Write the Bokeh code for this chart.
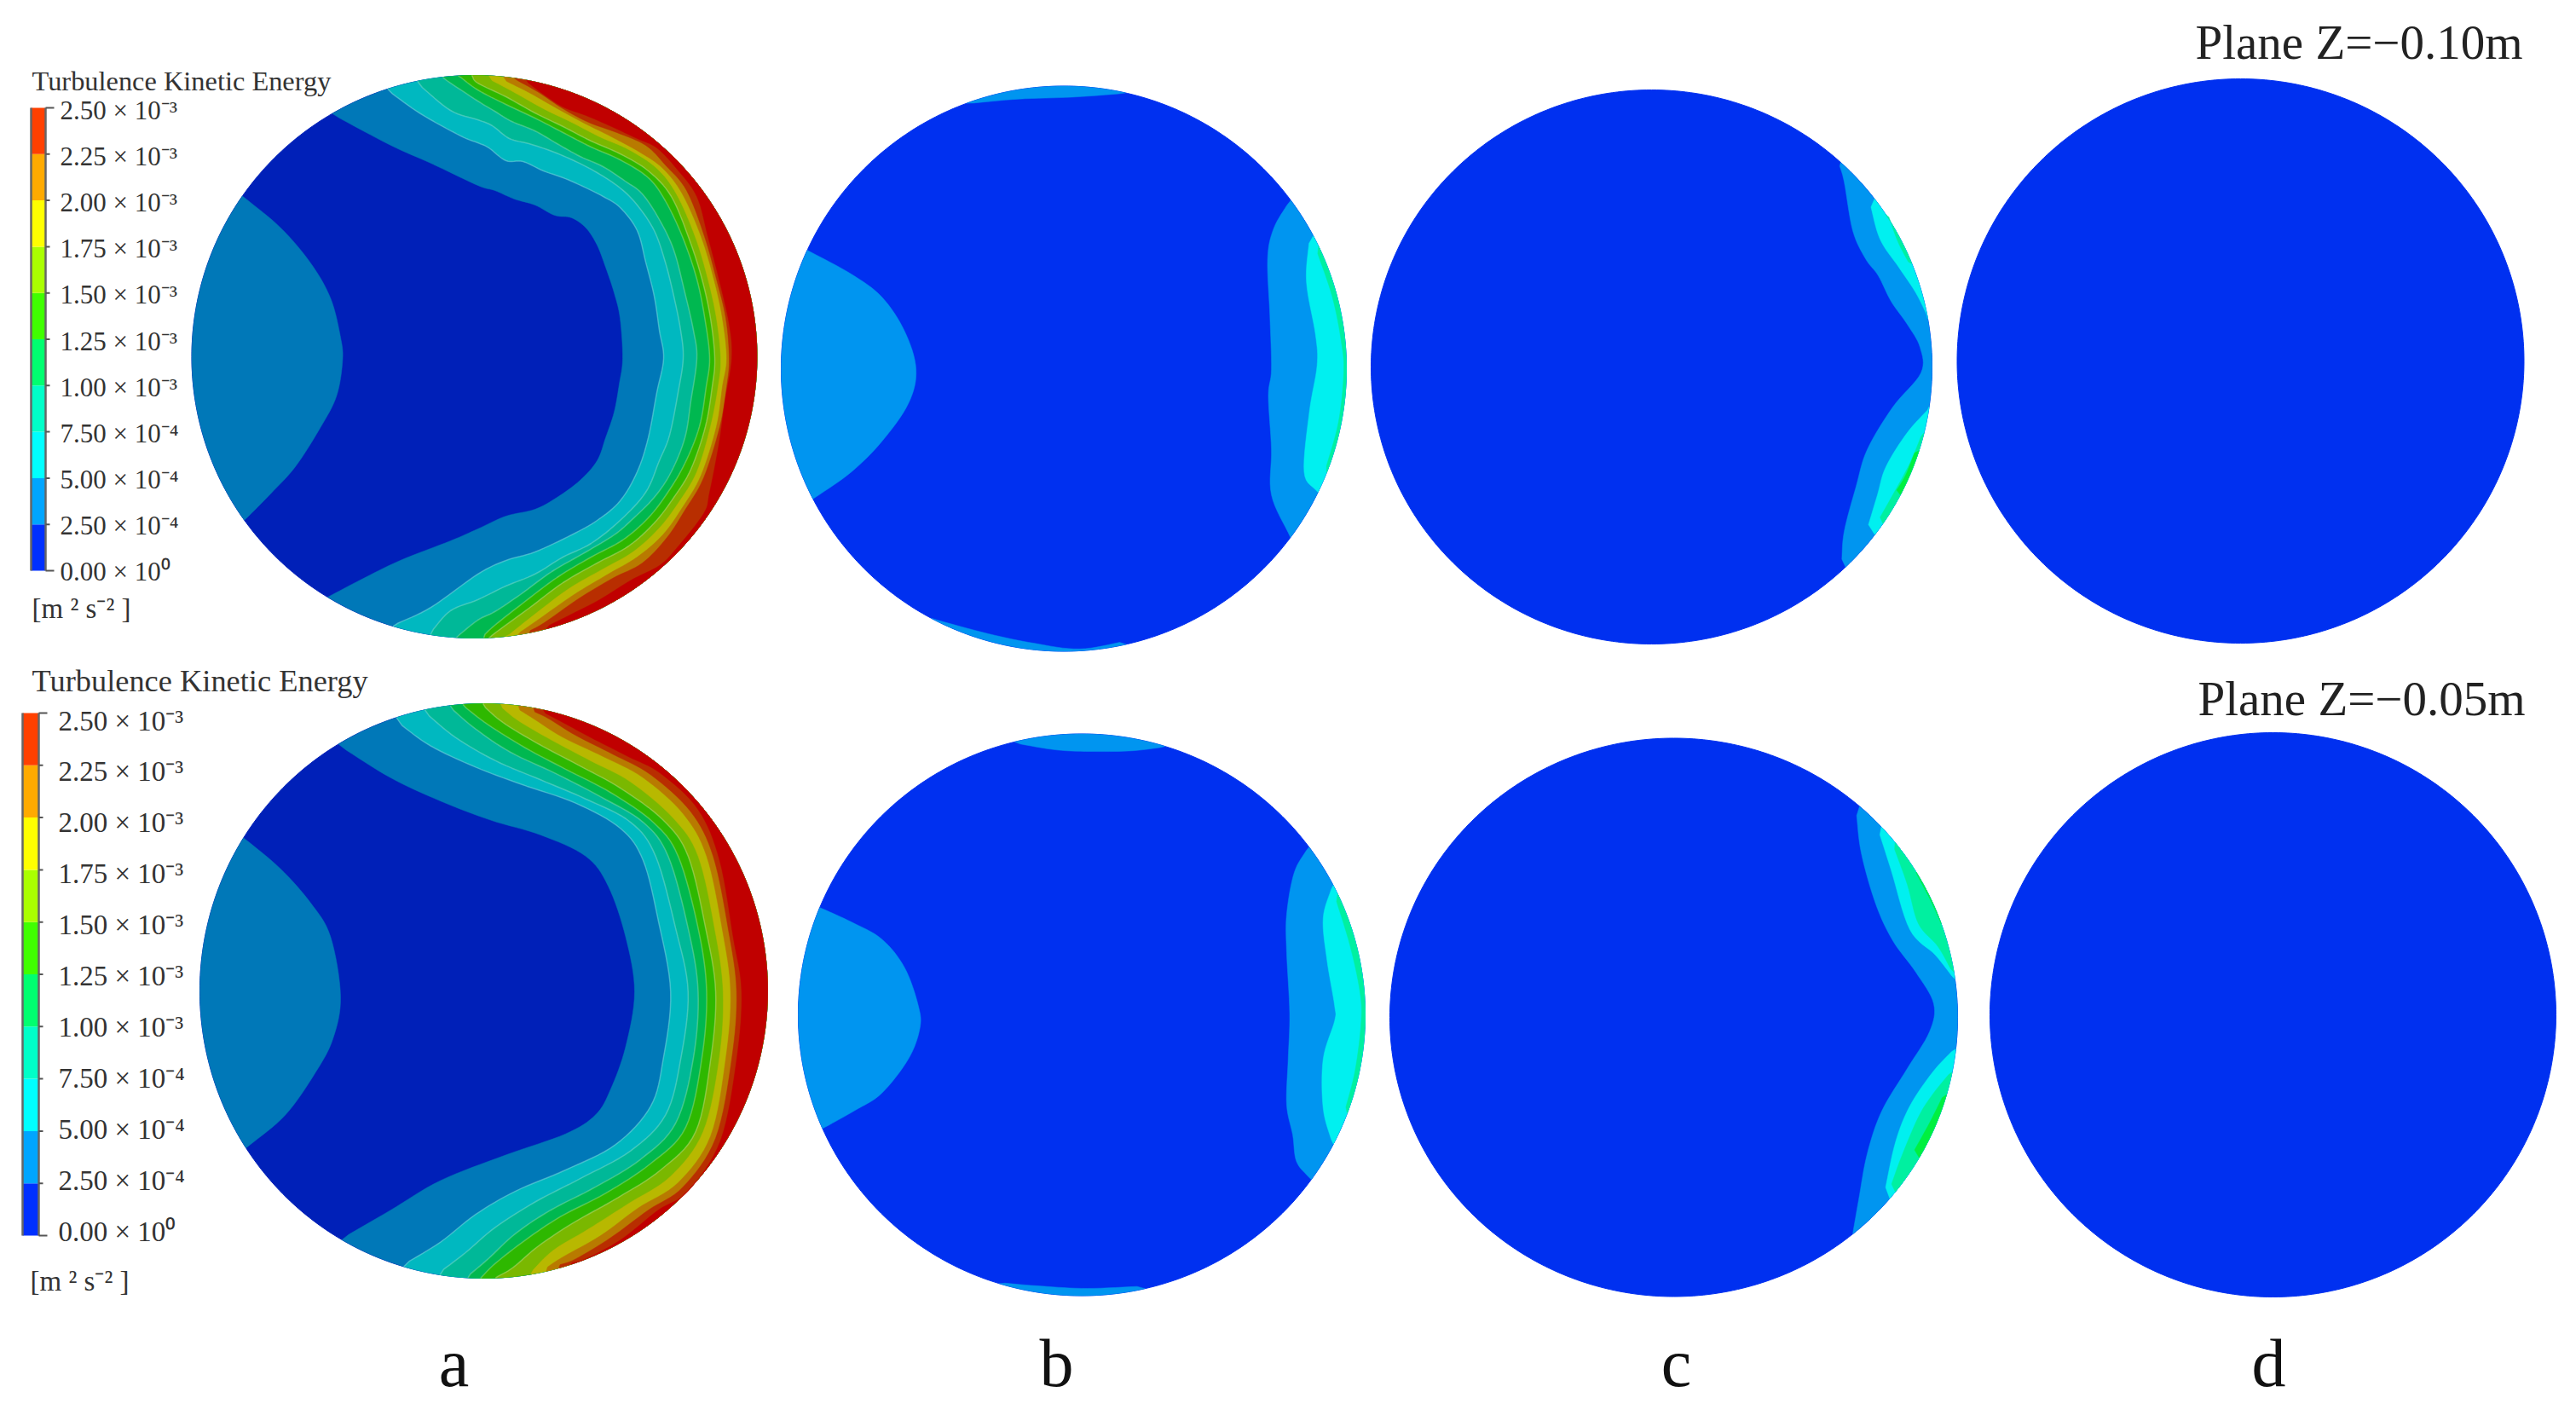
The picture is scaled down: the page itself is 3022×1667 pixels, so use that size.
import numpy as np
from bokeh.plotting import figure
from bokeh.embed import file_html
from bokeh.resources import INLINE
from bokeh.core.properties import value

# ---- text ----
TITLE = "Turbulence Kinetic Energy"
UNIT = "[m \u00b2 s\u207b\u00b2 ]"
TICK_LABELS = ["0.00 \u00d7 10\u2070", "2.50 \u00d7 10\u207b\u2074", "5.00 \u00d7 10\u207b\u2074", "7.50 \u00d7 10\u207b\u2074",
               "1.00 \u00d7 10\u207b\u00b3", "1.25 \u00d7 10\u207b\u00b3", "1.50 \u00d7 10\u207b\u00b3", "1.75 \u00d7 10\u207b\u00b3",
               "2.00 \u00d7 10\u207b\u00b3", "2.25 \u00d7 10\u207b\u00b3", "2.50 \u00d7 10\u207b\u00b3"]
PANEL_LETTERS = ["a", "b", "c", "d"]
PLANES = ["Plane Z=\u22120.10m", "Plane Z=\u22120.05m"]

# ---- colours ----
BAR_COLORS = ["#0030ff", "#00a5ff", "#00ffff", "#00ffc8", "#00ff70", "#40ff00", "#aaff00", "#ffff00", "#ffaa00", "#ff4000"]
DARK_LEVELS = ["#0020b8", "#0078b8", "#00b8c0", "#00b898", "#00b850", "#2eb800", "#7ab800", "#b8b800", "#b87a00", "#b82e00", "#c00000"]
BRIGHT_LEVELS = ["#0030f0", "#0095f0", "#00f0f0", "#00f0a0", "#00f040"]

# ---- contour lines, (x, y) in the reading frames below ----
A1_LOBE = [(487,372),(560,450),(620,540),(660,630),(680,730),(684,790),(672,880),(640,960),(590,1060),(540,1130),(490,1195)]
A1_L1 = [(390,134),(458,170),(505,191),(560,217),(580,223),(603,233),(627,240),(650,252),(670,255),(687,267),(700,287),(710,313),(720,343),(727,373),(730,420),(726,450),(720,483),(710,513),(700,540),(680,563),(653,583),(627,597),(593,605),(560,620),(528,634),(469,657),(422,680),(384,700)]
A1_L2 = [(455,106),(493,133),(540,159),(560,167),(573,173),(593,188),(613,189),(637,200),(660,208),(683,218),(707,230),(727,243),(747,270),(757,307),(767,347),(773,387),(778,420),(770,460),(760,513),(747,553),(727,587),(700,610),(670,627),(627,647),(593,657),(560,673),(505,712),(461,733)]
A1_L3 = [(490,98),(528,129),(560,140),(577,147),(597,162),(620,168),(647,177),(673,188),(700,202),(727,220),(747,240),(767,270),(780,307),(790,347),(798,387),(801,420),(795,460),(785,510),(773,540),(757,577),(727,610),(693,637),(660,653),(627,673),(593,687),(560,703),(528,716),(505,741)]
A1_L4 = [(519,91),(560,118),(580,130),(600,142),(627,153),(653,168),(680,183),(707,195),(733,212),(753,227),(773,257),(790,293),(803,343),(813,387),(817,420),(810,470),(803,513),(787,553),(767,583),(740,610),(720,627),(687,647),(647,670),(610,697),(580,717),(560,727),(535,747)]
A1_L5 = [(537,88),(560,105),(593,122),(627,138),(660,155),(693,172),(727,187),(760,208),(780,235),(800,277),(817,327),(827,377),(832,420),(828,453),(820,500),(803,543),(783,577),(760,607),(730,633),(693,653),(653,677),(613,707),(580,733),(567,745)]
A1_L6 = [(553,88),(560,97),(593,113),(627,132),(660,148),(693,165),(727,180),(760,200),(787,230),(808,280),(823,327),(833,373),(838,420),(835,453),(827,500),(810,550),(790,583),(767,613),(737,640),(700,660),(660,683),(620,713),(583,740),(573,748)]
A1_L7 = [(573,92),(603,108),(637,127),(670,143),(703,160),(737,175),(770,197),(793,227),(815,277),(830,327),(840,373),(845,420),(842,453),(833,500),(817,553),(795,590),(772,620),(742,647),(707,667),(667,690),(627,720),(593,747)]
A1_L8 = [(590,93),(620,108),(650,125),(683,143),(717,160),(750,178),(777,197),(800,227),(822,277),(837,327),(847,373),(852,420),(847,453),(840,500),(822,557),(800,595),(777,627),(747,653),(713,673),(673,697),(633,725),(607,743)]
A1_L9 = [(603,92),(630,107),(660,127),(690,143),(723,155),(757,170),(780,193),(805,223),(826,277),(840,327),(851,373),(855,420),(852,453),(844,500),(825,560),(803,598),(782,630),(753,660),(718,678),(678,702),(638,730),(620,740)]
A1_L10 = [(617,95),(637,110),(660,125),(687,135),(717,148),(747,162),(770,173),(793,197),(817,230),(830,277),(843,327),(855,380),(858,420),(850,470),(843,520),(832,577),(825,602),(793,643),(773,663),(740,680),(703,703),(670,720),(640,735)]

A2_LOBE = [(490,410),(560,480),(620,560),(660,640),(680,780),(665,880),(630,960),(570,1060),(495,1135)]
A2_L1 = [(678,190),(780,265),(880,320),(980,365),(1080,400),(1170,450),(1215,520),(1250,640),(1268,770),(1250,900),(1220,1000),(1190,1060),(1130,1105),(1010,1155),(880,1215),(780,1285),(685,1350)]
A2_L2 = [(795,135),(860,190),(950,240),(1040,280),(1150,325),(1240,385),(1285,460),(1315,600),(1340,770),(1325,930),(1300,1040),(1230,1130),(1130,1190),(1030,1240),(950,1295),(880,1360),(808,1412)]
A2_L3 = [(850,112),(910,170),(990,225),(1080,270),(1170,315),(1260,370),(1310,450),(1350,620),(1375,770),(1360,930),(1330,1060),(1260,1145),(1160,1210),(1070,1265),(990,1325),(930,1385),(880,1430)]
A2_L4 = [(900,100),(950,150),(1020,205),(1110,255),(1200,310),(1285,370),(1335,450),(1375,620),(1395,770),(1385,930),(1350,1080),(1280,1165),(1190,1230),(1100,1285),(1030,1340),(975,1400),(935,1440)]
A2_L5 = [(925,95),(975,140),(1050,195),(1130,245),(1220,300),(1305,370),(1355,450),(1395,620),(1412,770),(1402,930),(1370,1090),(1300,1175),(1210,1245),(1120,1300),(1050,1355),(990,1410),(960,1445)]
A2_L6 = [(965,95),(1005,135),(1075,185),(1155,235),(1240,290),(1325,365),(1375,450),(1410,620),(1430,770),(1420,930),(1390,1100),(1320,1190),(1235,1255),(1145,1315),(1075,1370),(1025,1420),(990,1444)]
A2_L7 = [(1000,97),(1035,130),(1100,175),(1180,225),(1260,275),(1345,360),(1395,450),(1428,620),(1445,770),(1437,930),(1405,1100),(1340,1205),(1255,1270),(1175,1330),(1105,1380),(1060,1432)]
A2_L8 = [(1035,103),(1065,125),(1125,170),(1205,215),(1285,265),(1365,350),(1412,450),(1443,620),(1460,770),(1450,930),(1420,1110),(1355,1220),(1275,1280),(1200,1345),(1125,1395),(1090,1422)]
A2_L9 = [(1065,108),(1095,125),(1150,165),(1225,210),(1300,258),(1380,345),(1425,450),(1455,620),(1472,770),(1462,930),(1430,1115),(1365,1230),(1295,1285),(1220,1350),(1150,1400),(1115,1415)]
A2_L10 = [(1085,110),(1125,135),(1180,170),(1255,215),(1320,255),(1395,340),(1438,460),(1465,640),(1482,770),(1472,930),(1440,1120),(1375,1240),(1315,1285),(1240,1355),(1170,1400),(1140,1410)]

B1_LOBE = [(55,480),(110,540),(150,600),(180,690),(195,790),(185,880),(150,980),(110,1060),(62,1128)]
B1_TOP = [(262,92),(330,80),(400,75),(470,65)]
B1_BOTTOM = [(215,1445),(290,1485),(350,1510),(410,1525),(470,1505)]
B1_L1 = [(685,350),(665,420),(657,500),(660,650),(662,790),(658,860),(662,1000),(662,1120),(687,1232)]
B1_L2 = [(712,445),(708,560),(720,700),(722,780),(712,900),(705,1060),(722,1112)]
B1_L3 = [(720,470),(742,600),(754,720),(757,800),(750,930),(732,1060)]

B2_LOBE = [(72,505),(110,540),(150,585),(180,660),(198,760),(200,820),(185,900),(150,990),(115,1035),(75,1080)]
B2_TOP = [(325,70),(380,88),(430,92),(480,90),(522,80)]
B2_BOTTOM = [(305,1488),(360,1497),(420,1503),(495,1497)]
B2_L1 = [(710,345),(692,410),(682,520),(682,620),(686,780),(684,900),(682,1020),(690,1100),(695,1170),(713,1215)]
B2_L2 = [(742,445),(730,530),(735,640),(745,760),(745,800),(730,900),(730,1030),(742,1122)]
B2_L3 = [(745,470),(765,600),(778,720),(780,800),(772,930),(758,1040)]

C1_L1 = [(2157,192),(2163,213),(2173,270),(2188,303),(2203,323),(2218,353),(2237,380),(2252,407),(2253,437),(2220,477),(2190,527),(2177,570),(2163,623),(2160,660)]
C1_L2A = [(2193,237),(2205,280),(2227,313),(2247,343),(2262,373)]
C1_L2B = [(2264,477),(2237,507),(2212,547),(2202,580),(2190,620)]
C1_L3A = [(2214,250),(2226,283),(2240,310)]
C1_L3B = [(2255,507),(2240,543),(2220,580),(2203,610)]
C1_L4B = [(2247,527),(2235,557),(2223,577)]

C2_L1 = [(2177,950),(2183,1000),(2200,1060),(2220,1103),(2247,1140),(2268,1177),(2263,1210),(2237,1253),(2207,1303),(2190,1353),(2180,1407),(2173,1447)]
C2_L2A = [(2203,973),(2218,1020),(2240,1090),(2270,1120),(2292,1148)]
C2_L2B = [(2292,1230),(2267,1257),(2240,1297),(2223,1340),(2210,1400)]
C2_L3A = [(2220,990),(2237,1037),(2250,1083),(2273,1110),(2290,1140)]
C2_L3B = [(2288,1257),(2267,1283),(2250,1310),(2230,1357),(2217,1393)]
C2_L4A = [(2247,1023),(2263,1053),(2277,1083)]
C2_L4B = [(2280,1283),(2263,1317),(2243,1353)]

# reading frames: left, top, x-scale, y-scale of the picture the lines were read from
FRAME_PAGE = (0, 0, 1, 1)
FRAME_A1 = (0, 60, 1568/920, 1568/720)
FRAME_A2 = (0, 780, 1568/920, 1568/780)
FRAME_R1 = (900, 80, 1568/1400, 1568/700)
FRAME_R2 = (900, 840, 1568/1400, 1568/700)

# disc outlines: centre x, centre y, radius x, radius y in page pixels
DISC_A1 = (556, 418, 331.5, 330)
DISC_B1 = (1247.5, 432, 331.5, 331.5)
DISC_C1 = (1937, 430, 329, 325)
DISC_D1 = (2628, 423, 332.5, 331)
DISC_A2 = (567, 1162, 333, 337)
DISC_B2 = (1268.5, 1190, 332.5, 329.5)
DISC_C2 = (1963, 1193, 333, 327.5)
DISC_D2 = (2666, 1190, 332, 331)

# colour bars: left, right, top, bottom in page pixels
BAR1 = (36, 53, 126, 669)
BAR2 = (26, 45, 836, 1449)
# vertical span of the tick labels: first (0.00) and last (2.50) label centre
LABELS1 = (670, 129)
LABELS2 = (1444, 845)

p = figure(width=3006, height=1651, x_range=(0, 3006), y_range=(1651, 0),
           output_backend="svg", toolbar_location=None, min_border=0,
           outline_line_color=None, background_fill_color="white", border_fill_color="white")
p.axis.visible = False
p.grid.visible = False


def to_page(curve, frame):
    a = np.array(curve, float)
    return frame[0] + a[:, 0] / frame[2], frame[1] + a[:, 1] / frame[3]


def smooth(x, y, n=8):
    """Catmull-Rom drawing of the read points, so a contour is not a visible polygon."""
    px = np.r_[2 * x[0] - x[1], x, 2 * x[-1] - x[-2]]
    py = np.r_[2 * y[0] - y[1], y, 2 * y[-1] - y[-2]]
    s = np.linspace(0, 1, n, endpoint=False)[:, None]
    def seg(q):
        a, b, c, d = q[:-3], q[1:-2], q[2:-1], q[3:]
        return (0.5 * (2 * b + (c - a) * s + (2 * a - 5 * b + 4 * c - d) * s ** 2 + (3 * b - a - 3 * c + d) * s ** 3)).T.ravel()
    return np.r_[seg(px), x[-1]], np.r_[seg(py), y[-1]]


def region(curve, frame, disc, via):
    cx, cy, rx, ry = disc
    x, y = to_page(curve, frame)
    if len(x) > 2:
        x, y = smooth(x, y)
    t0 = np.arctan2((y[-1] - cy) / ry, (x[-1] - cx) / rx)
    t1 = np.arctan2((y[0] - cy) / ry, (x[0] - cx) / rx)
    two = 2 * np.pi
    d = (t1 - t0) % two
    if via is None:
        # the short way round the rim
        if d > np.pi:
            d = d - two
    elif (np.radians(via) - t0) % two >= d:
        d = d - two
    t = t0 + np.linspace(0, d, 90)
    ax, ay = cx + rx * np.cos(t), cy + ry * np.sin(t)
    # snap the curve ends on the rim
    x[0], y[0] = ax[-1], ay[-1]
    x[-1], y[-1] = ax[0], ay[0]
    return list(np.r_[x, ax]), list(np.r_[y, ay]), list(x), list(y)


def disc(d, color):
    t = np.linspace(0, 2 * np.pi, 361)
    p.patch(d[0] + d[2] * np.cos(t), d[1] + d[3] * np.sin(t), fill_color=color, line_color=color, line_width=1)


def fill(curve, frame, d, via, color, seam=False):
    rx_, ry_, lx, ly = region(curve, frame, d, via)
    p.patch(rx_, ry_, fill_color=color, line_color=color, line_width=0.5)
    if seam:
        p.line(lx, ly, line_color="white", line_alpha=0.25, line_width=1.5)


# panel a, both rows
for frame, lobe_frame, d, lobe, levels in [
    (FRAME_PAGE, FRAME_A1, DISC_A1, A1_LOBE, [A1_L1, A1_L2, A1_L3, A1_L4, A1_L5, A1_L6, A1_L7, A1_L8, A1_L9, A1_L10]),
    (FRAME_A2, FRAME_A2, DISC_A2, A2_LOBE, [A2_L1, A2_L2, A2_L3, A2_L4, A2_L5, A2_L6, A2_L7, A2_L8, A2_L9, A2_L10]),
]:
    disc(d, DARK_LEVELS[0])
    fill(lobe, lobe_frame, d, 180, DARK_LEVELS[1])
    for i, c in enumerate(levels):
        fill(c, frame, d, 0, DARK_LEVELS[i + 1], seam=2 <= i + 1 <= 6)

# panel b, both rows
for frame, d, lobe, top, bottom, l1, l2, l3 in [
    (FRAME_R1, DISC_B1, B1_LOBE, B1_TOP, B1_BOTTOM, B1_L1, B1_L2, B1_L3),
    (FRAME_R2, DISC_B2, B2_LOBE, B2_TOP, B2_BOTTOM, B2_L1, B2_L2, B2_L3),
]:
    disc(d, BRIGHT_LEVELS[0])
    fill(lobe, frame, d, 180, BRIGHT_LEVELS[1])
    fill(top, frame, d, -90, BRIGHT_LEVELS[1])
    fill(bottom, frame, d, 90, BRIGHT_LEVELS[1])
    fill(l1, frame, d, 0, BRIGHT_LEVELS[1])
    fill(l2, frame, d, 0, BRIGHT_LEVELS[2])
    fill(l3, frame, d, 0, BRIGHT_LEVELS[3])

# panel c, both rows
for d, l1, pieces in [
    (DISC_C1, C1_L1, [(C1_L2A, 2), (C1_L2B, 2), (C1_L3A, 3), (C1_L3B, 3), (C1_L4B, 4)]),
    (DISC_C2, C2_L1, [(C2_L2A, 2), (C2_L2B, 2), (C2_L3A, 3), (C2_L3B, 3), (C2_L4A, 4), (C2_L4B, 4)]),
]:
    disc(d, BRIGHT_LEVELS[0])
    fill(l1, FRAME_PAGE, d, 0, BRIGHT_LEVELS[1])
    for curve, level in pieces:
        fill(curve, FRAME_PAGE, d, None, BRIGHT_LEVELS[level])

# panel d, both rows
disc(DISC_D1, BRIGHT_LEVELS[0])
disc(DISC_D2, BRIGHT_LEVELS[0])


def text(x, y, s, size, color="#333333", align="left"):
    p.text([x], [y], text=[s], text_font=value("Liberation Serif"), text_font_size=value(f"{size}px"),
           text_color=color, text_align=align, text_baseline="middle")


# colour bars with their tick labels
for (l, r, t, b), (lab0, lab1), lx, size, tick_long in [(BAR1, LABELS1, 70, 31, 10), (BAR2, LABELS2, 68, 33, 10)]:
    step = (b - t) / len(BAR_COLORS)
    lab_step = (lab0 - lab1) / len(BAR_COLORS)
    tops = [b - (i + 1) * step for i in range(len(BAR_COLORS))]
    bottoms = [b - i * step for i in range(len(BAR_COLORS))]
    p.quad(left=l, right=r, top=tops, bottom=bottoms, fill_color=BAR_COLORS, line_color=None)
    p.multi_line([[l, l], [r, r]], [[t, b], [t, b]], line_color="#666666", line_width=2.5)
    for i, lab in enumerate(TICK_LABELS):
        yy = b - i * step
        end = tick_long if i in (0, 10) else 5
        p.line([r, r + end], [yy, yy], line_color="#555555", line_width=2)
        text(lx, lab0 - i * lab_step, lab, size)

text(37, 94, TITLE, 32.4)
text(37, 798, TITLE, 36.4)
text(37, 713, UNIT, 33)
text(35, 1502, UNIT, 33)

text(2575, 49, PLANES[0], 57, color="#222222")
text(2578, 819, PLANES[1], 57, color="#222222")

for x, s in zip([532, 1239, 1966, 2661], PANEL_LETTERS):
    text(x, 1598, s, 80, color="#111111", align="center")

open("out.html", "w").write(file_html(p, INLINE))
